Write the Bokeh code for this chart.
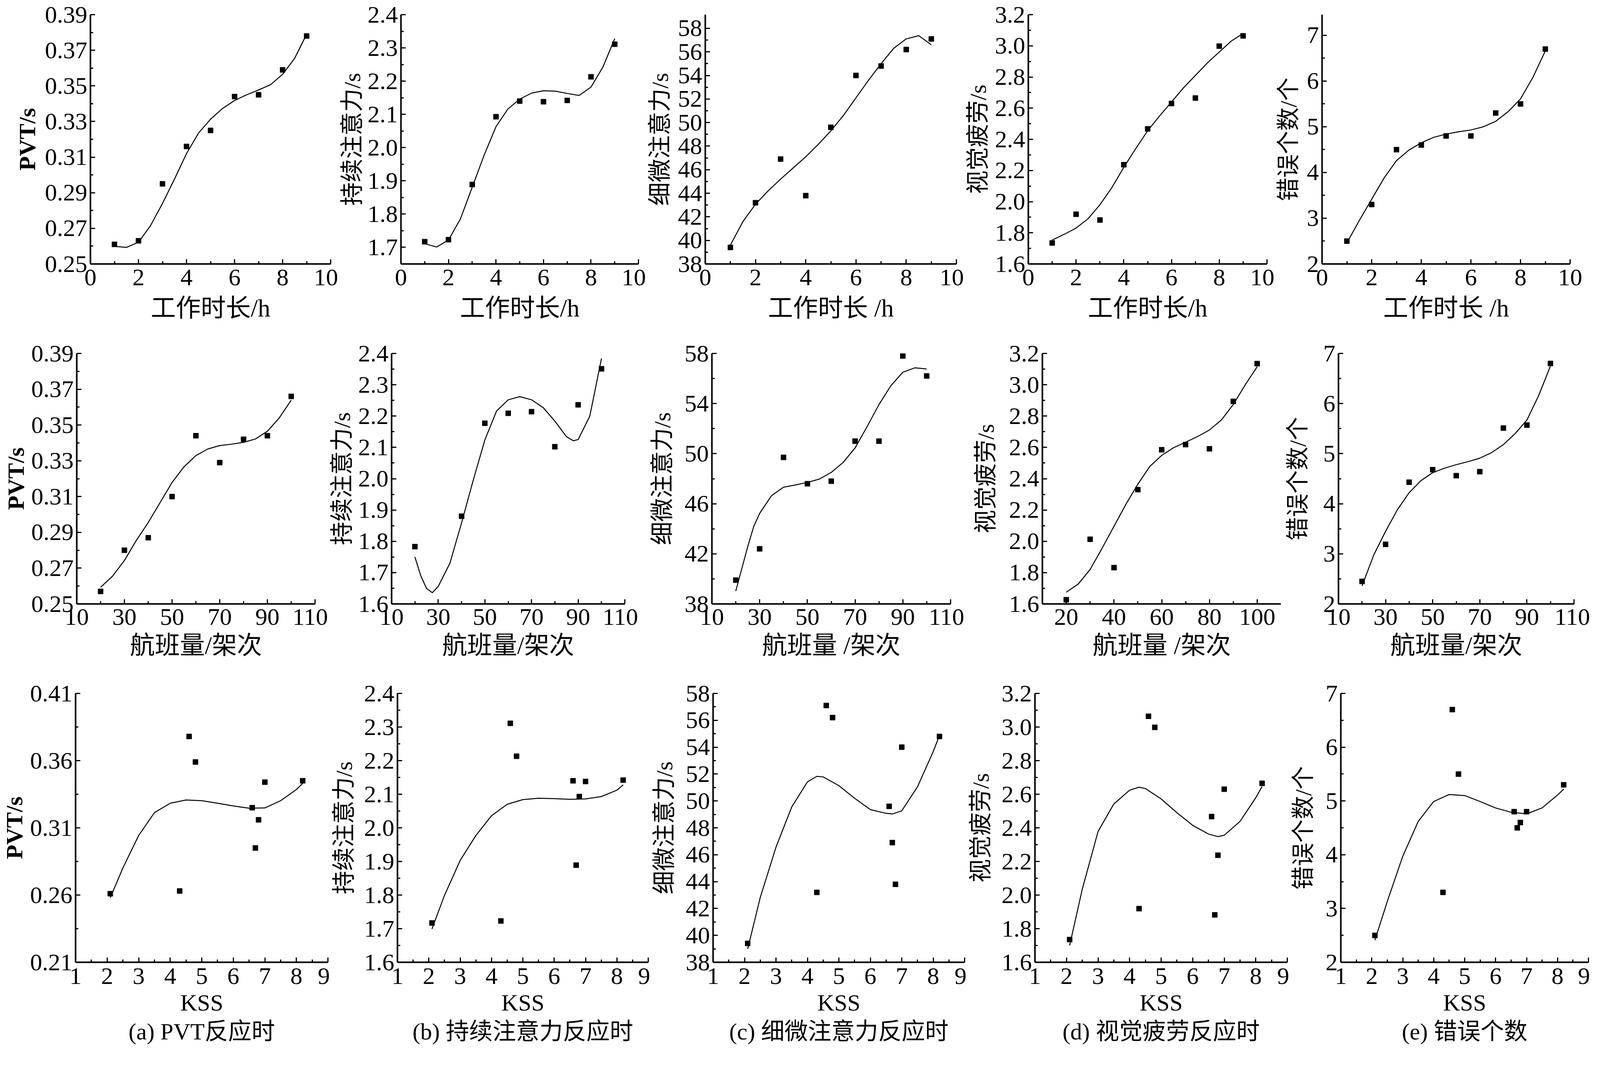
from bokeh.plotting import figure
from bokeh.layouts import row, column
from bokeh.models import Range1d, FixedTicker, PrintfTickFormatter, Title
from bokeh.embed import file_html
from bokeh.resources import INLINE

# ---------------- data ----------------
hours = [1, 2, 3, 4, 5, 6, 7, 8, 9]
flights = [20, 30, 40, 50, 60, 70, 80, 90, 100]
flights_sus = [20, 40, 50, 60, 70, 80, 90, 100]
kss = [2.1, 4.3, 6.7, 6.8, 6.6, 7.0, 8.2, 4.8, 4.6]

pvt_h = [0.261, 0.263, 0.295, 0.316, 0.325, 0.344, 0.345, 0.359, 0.378]
sus_h = [1.717, 1.723, 1.889, 2.093, 2.140, 2.138, 2.142, 2.213, 2.311]
fine_h = [39.4, 43.2, 46.9, 43.8, 49.6, 54.0, 54.8, 56.2, 57.1]
vis_h = [1.735, 1.919, 1.882, 2.237, 2.467, 2.630, 2.665, 2.998, 3.064]
err_h = [2.5, 3.3, 4.5, 4.6, 4.8, 4.8, 5.3, 5.5, 6.7]

pvt_f = [0.257, 0.280, 0.287, 0.310, 0.344, 0.329, 0.342, 0.344, 0.366]
sus_f = [1.783, 1.880, 2.177, 2.209, 2.214, 2.102, 2.236, 2.351]
fine_f = [39.9, 42.4, 49.7, 47.6, 47.8, 51.0, 51.0, 57.8, 56.2]
vis_f = [1.627, 2.013, 1.832, 2.330, 2.585, 2.618, 2.591, 2.894, 3.135]
err_f = [2.45, 3.19, 4.43, 4.68, 4.56, 4.64, 5.51, 5.57, 6.80]

# fitted curves
fit_h_x = [1, 1.5, 2, 2.5, 3, 3.5, 4, 4.5, 5, 5.5, 6, 6.5, 7, 7.5, 8, 8.5, 9]
pvt_h_fit = [0.2599, 0.2593, 0.2622, 0.2715, 0.2840, 0.2977, 0.3120, 0.3235, 0.3313,
             0.3373, 0.3418, 0.3450, 0.3477, 0.3507, 0.3565, 0.3655, 0.3790]
sus_h_fit = [1.711, 1.701, 1.722, 1.785, 1.881, 1.977, 2.063, 2.116, 2.146,
             2.164, 2.171, 2.170, 2.163, 2.157, 2.182, 2.242, 2.328]
fine_h_fit = [39.6, 41.6, 43.07, 44.2, 45.2, 46.15, 47.1, 48.15, 49.3,
              50.6, 52.1, 53.6, 55.0, 56.3, 57.1, 57.38, 56.6]
vis_h_fit = [1.753, 1.79, 1.83, 1.89, 1.98, 2.09, 2.22, 2.34, 2.455,
             2.55, 2.64, 2.73, 2.81, 2.89, 2.96, 3.03, 3.08]
err_h_fit = [2.46, 2.95, 3.415, 3.88, 4.26, 4.49, 4.65, 4.77, 4.84,
             4.89, 4.93, 5.0, 5.12, 5.33, 5.61, 6.08, 6.66]

fit_f_x = [20, 25, 30, 35, 40, 45, 50, 55, 60, 65, 70, 75, 80, 85, 90, 95, 100]
pvt_f_fit = [0.2593, 0.2655, 0.2743, 0.2855, 0.2955, 0.3067, 0.3179, 0.3266, 0.3329,
             0.3366, 0.3385, 0.3393, 0.3403, 0.3422, 0.3465, 0.3540, 0.3639]
sus_f_fit_x = [20, 22.5, 25, 27.5, 30, 35, 40, 45, 50, 55, 60, 65, 70, 75, 80, 85, 88, 90, 95, 100]
sus_f_fit = [1.750, 1.690, 1.649, 1.636, 1.656, 1.730, 1.859, 1.995, 2.124, 2.216,
             2.252, 2.262, 2.252, 2.227, 2.184, 2.134, 2.121, 2.125, 2.200, 2.384]
fine_f_fit_x = [20, 22.5, 25, 27.5, 30, 35, 40, 45, 50, 55, 60, 65, 70, 75, 80, 85, 90, 95, 100]
fine_f_fit = [39.03, 40.8, 42.57, 44.17, 45.23, 46.65, 47.32, 47.5, 47.7, 47.97,
              48.5, 49.3, 50.46, 52.15, 53.92, 55.43, 56.5, 56.85, 56.76]
vis_f_fit = [1.675, 1.727, 1.820, 1.955, 2.096, 2.237, 2.365, 2.478, 2.549,
             2.598, 2.633, 2.669, 2.711, 2.775, 2.874, 3.000, 3.115]
err_f_fit = [2.36, 2.98, 3.45, 3.88, 4.22, 4.46, 4.62, 4.71, 4.78,
             4.84, 4.91, 5.02, 5.18, 5.40, 5.67, 6.16, 6.75]

fit_k_x = [2.1, 2.5, 3, 3.5, 4, 4.5, 5, 5.5, 6, 6.5, 7, 7.5, 8, 8.2]
pvt_k_fit = [0.2580, 0.2802, 0.3043, 0.3213, 0.3283, 0.3307, 0.3302, 0.3283, 0.3263,
             0.3246, 0.3248, 0.3302, 0.3385, 0.3431]
sus_k_fit = [1.699, 1.799, 1.903, 1.977, 2.036, 2.070, 2.084, 2.088, 2.087,
             2.085, 2.086, 2.093, 2.112, 2.128]
fine_k_fit_x = [2.1, 2.5, 3, 3.5, 4, 4.3, 4.5, 5, 5.5, 6, 6.5, 6.7, 7, 7.5, 8, 8.2]
fine_k_fit = [38.99, 42.82, 46.56, 49.55, 51.42, 51.83, 51.79, 51.14, 50.2, 49.36,
              49.08, 49.03, 49.27, 51.05, 53.67, 54.88]
vis_k_fit_x = [2.1, 2.5, 3, 3.5, 4, 4.3, 4.5, 5, 5.5, 6, 6.5, 6.8, 7, 7.5, 8, 8.2]
vis_k_fit = [1.700, 2.035, 2.378, 2.542, 2.624, 2.642, 2.634, 2.572, 2.490, 2.415,
             2.363, 2.348, 2.356, 2.438, 2.579, 2.646]
err_k_fit = [2.41, 3.13, 3.97, 4.62, 4.99, 5.12, 5.10, 4.99, 4.87, 4.79, 4.76, 4.87, 5.11, 5.22]

# tick values
x_ticks_h = [0, 2, 4, 6, 8, 10]
x_minor_h = [1, 3, 5, 7, 9]
x_ticks_f = [10, 30, 50, 70, 90, 110]
x_minor_f = [20, 40, 60, 80, 100]
x_ticks_f2 = [20, 40, 60, 80, 100]
x_minor_f2 = [30, 50, 70, 90]
x_ticks_k = [1, 2, 3, 4, 5, 6, 7, 8, 9]
x_minor_k = [1.5, 2.5, 3.5, 4.5, 5.5, 6.5, 7.5, 8.5]

pvt_ticks = [0.25, 0.27, 0.29, 0.31, 0.33, 0.35, 0.37, 0.39]
pvt_minor = [0.26, 0.28, 0.30, 0.32, 0.34, 0.36, 0.38]
pvt_ticks_k = [0.21, 0.26, 0.31, 0.36, 0.41]
pvt_minor_k = [0.235, 0.285, 0.335, 0.385]
sus_ticks = [1.6, 1.7, 1.8, 1.9, 2.0, 2.1, 2.2, 2.3, 2.4]
sus_minor = [1.65, 1.75, 1.85, 1.95, 2.05, 2.15, 2.25, 2.35]
fine_ticks = [38, 40, 42, 44, 46, 48, 50, 52, 54, 56, 58]
fine_minor = [39, 41, 43, 45, 47, 49, 51, 53, 55, 57]
fine_ticks_f = [38, 42, 46, 50, 54, 58]
fine_minor_f = [40, 44, 48, 52, 56]
vis_ticks = [1.6, 1.8, 2.0, 2.2, 2.4, 2.6, 2.8, 3.0, 3.2]
vis_minor = [1.7, 1.9, 2.1, 2.3, 2.5, 2.7, 2.9, 3.1]
err_ticks = [2, 3, 4, 5, 6, 7]
err_minor = [2.5, 3.5, 4.5, 5.5, 6.5]

ylabels = ["PVT/s", "持续注意力/s", "细微注意力/s", "视觉疲劳/s", "错误个数/个"]
captions = ["(a) PVT反应时", "(b) 持续注意力反应时", "(c) 细微注意力反应时",
            "(d) 视觉疲劳反应时", "(e) 错误个数"]

# ---------------- styling / layout ----------------
NUM_FONT = "Liberation Serif"
TXT_FONT = "Liberation Serif, Noto Sans CJK SC"
TICK_SIZE = "62px"
YLABEL_SIZE = "60px"
EXTRA = 12   # the page adds about this much round every figure


def spans(frames, bounds):
    out = []
    for (fl, fr), x0, x1 in zip(frames, bounds[:-1], bounds[1:]):
        out.append((x1 - x0 - EXTRA, fl - x0, x1 - fr - EXTRA))
    return out


def panel(geom, height, top, bottom, xr, yr, xt, xm, yt, ym, yfmt,
          xlab, ylab, ystand, xtick_stand, xstand, xs, ys, fx, fy,
          caption=None, xlabel_size="64px"):
    w, L, R = geom
    p = figure(width=w, height=height - EXTRA, x_range=Range1d(*xr), y_range=Range1d(*yr),
               output_backend="svg", toolbar_location=None, title=None,
               min_border_left=L, min_border_right=R,
               min_border_top=top, min_border_bottom=bottom - EXTRA, margin=0)
    p.grid.visible = False
    p.outline_line_color = None
    p.background_fill_color = "white"
    p.border_fill_color = "white"
    p.xaxis.ticker = FixedTicker(ticks=xt, minor_ticks=xm)
    p.yaxis.ticker = FixedTicker(ticks=yt, minor_ticks=ym)
    p.xaxis.formatter = PrintfTickFormatter(format="%d")
    p.yaxis.formatter = PrintfTickFormatter(format=yfmt)
    for ax in (p.xaxis[0], p.yaxis[0]):
        ax.axis_line_width = 4
        ax.axis_line_color = "black"
        ax.major_tick_in = 12
        ax.major_tick_out = 0
        ax.minor_tick_in = 7
        ax.minor_tick_out = 0
        ax.major_tick_line_width = 3
        ax.minor_tick_line_width = 3
        ax.major_tick_line_color = "black"
        ax.minor_tick_line_color = "black"
        ax.major_label_text_font = NUM_FONT
        ax.major_label_text_font_size = TICK_SIZE
        ax.major_label_text_color = "black"
        ax.axis_label_text_font = TXT_FONT
        ax.axis_label_text_color = "black"
        ax.axis_label_text_font_style = "normal"
    p.xaxis.major_label_standoff = xtick_stand
    p.yaxis.major_label_standoff = 8
    p.xaxis.axis_label = xlab
    p.xaxis.axis_label_text_font_size = xlabel_size
    p.xaxis.axis_label_standoff = xstand
    p.yaxis.axis_label = ylab
    p.yaxis.axis_label_text_font_size = YLABEL_SIZE
    p.yaxis.axis_label_standoff = ystand
    if ylab.startswith("PVT"):
        p.yaxis.axis_label_text_font_style = "bold"
    p.line(fx, fy, line_color="black", line_width=2.5)
    p.scatter(xs, ys, marker="square", size=13, color="black")
    if caption:
        t = Title(text=caption, align="center", text_font=TXT_FONT,
                  text_font_size="60px", text_font_style="normal",
                  text_color="black", standoff=6)
        p.add_layout(t, "below")
    return p


# Row 1: working hours
g1 = spans([(239, 854), (1040, 1654), (1831, 2480), (2670, 3287), (3434, 4075)],
           [8, 885, 1685, 2511, 3318, 4138])
H1, B1 = 860, 185
xl_h = ["工作时长/h", "工作时长/h", "工作时长 /h", "工作时长/h", "工作时长 /h"]
r1 = [
    panel(g1[0], H1, 37, B1, (0, 10), (0.25, 0.39), x_ticks_h, x_minor_h, pvt_ticks, pvt_minor, "%.2f",
          xl_h[0], ylabels[0], 9, 14, 20, hours, pvt_h, fit_h_x, pvt_h_fit),
    panel(g1[1], H1, 37, B1, (0, 10), (1.65, 2.4), x_ticks_h, x_minor_h, sus_ticks, sus_minor, "%.1f",
          xl_h[1], ylabels[1], 3, 14, 20, hours, sus_h, fit_h_x, sus_h_fit),
    panel(g1[2], H1, 0, B1, (0, 10), (38, 59.16), x_ticks_h, x_minor_h, fine_ticks, fine_minor, "%d",
          xl_h[2], ylabels[2], 10, 14, 20, hours, fine_h, fit_h_x, fine_h_fit),
    panel(g1[3], H1, 37, B1, (0, 10), (1.6, 3.2), x_ticks_h, x_minor_h, vis_ticks, vis_minor, "%.1f",
          xl_h[3], ylabels[3], 7, 14, 20, hours, vis_h, fit_h_x, vis_h_fit),
    panel(g1[4], H1, 0, B1, (0, 10), (2, 7.452), x_ticks_h, x_minor_h, err_ticks, err_minor, "%d",
          xl_h[4], ylabels[4], 11, 14, 20, hours, err_h, fit_h_x, err_h_fit),
]

# Row 2: flights
g2 = spans([(204, 814), (1016, 1619), (1854, 2465), (2712, 3323), (3482, 4085)],
           [8, 859, 1665, 2512, 3335, 4138])
H2, B2 = 884, 187
xl_f = ["航班量/架次", "航班量/架次", "航班量 /架次", "航班量 /架次", "航班量/架次"]
r2 = [
    panel(g2[0], H2, 51, B2, (10, 110), (0.25, 0.39), x_ticks_f, x_minor_f, pvt_ticks, pvt_minor, "%.2f",
          xl_f[0], ylabels[0], 3, 13, 14, flights, pvt_f, fit_f_x, pvt_f_fit),
    panel(g2[1], H2, 51, B2, (10, 110), (1.6, 2.4), x_ticks_f, x_minor_f, sus_ticks, sus_minor, "%.1f",
          xl_f[1], ylabels[1], 5, 13, 14, flights_sus, sus_f, sus_f_fit_x, sus_f_fit),
    panel(g2[2], H2, 51, B2, (10, 110), (38, 58), x_ticks_f, x_minor_f, fine_ticks_f, fine_minor_f, "%d",
          xl_f[2], ylabels[2], 21, 13, 14, flights, fine_f, fine_f_fit_x, fine_f_fit),
    panel(g2[3], H2, 45, B2, (10, 110), (1.6, 3.2), x_ticks_f2, x_minor_f2, vis_ticks, vis_minor, "%.1f",
          xl_f[3], ylabels[3], 23, 13, 14, flights, vis_f, fit_f_x, vis_f_fit),
    panel(g2[4], H2, 56, B2, (10, 110), (2, 7), x_ticks_f, x_minor_f, err_ticks, err_minor, "%d",
          xl_f[4], ylabels[4], 29, 13, 14, flights, err_f, fit_f_x, err_f_fit),
]

# Row 3: KSS
g3 = spans([(190, 847), (1031, 1679), (1851, 2501), (2687, 3339), (3482, 4122)],
           [8, 864, 1696, 2518, 3356, 4138])
H3, T3, B3 = 989, 54, 247
r3 = [
    panel(g3[0], H3, T3, B3, (1, 9), (0.21, 0.41), x_ticks_k, x_minor_k, pvt_ticks_k, pvt_minor_k, "%.2f",
          "KSS", ylabels[0], 4, 15, 12, kss, pvt_h, fit_k_x, pvt_k_fit, captions[0], "60px"),
    panel(g3[1], H3, T3, B3, (1, 9), (1.6, 2.4), x_ticks_k, x_minor_k, sus_ticks, sus_minor, "%.1f",
          "KSS", ylabels[1], 15, 15, 12, kss, sus_h, fit_k_x, sus_k_fit, captions[1], "60px"),
    panel(g3[2], H3, T3, B3, (1, 9), (38, 58), x_ticks_k, x_minor_k, fine_ticks, fine_minor, "%d",
          "KSS", ylabels[2], 19, 15, 12, kss, fine_h, fine_k_fit_x, fine_k_fit, captions[2], "60px"),
    panel(g3[3], H3, T3, B3, (1, 9), (1.6, 3.2), x_ticks_k, x_minor_k, vis_ticks, vis_minor, "%.1f",
          "KSS", ylabels[3], 17, 15, 12, kss, vis_h, vis_k_fit_x, vis_k_fit, captions[3], "60px"),
    panel(g3[4], H3, T3, B3, (1, 9), (2, 7), x_ticks_k, x_minor_k, err_ticks, err_minor, "%d",
          "KSS", ylabels[4], 21, 15, 12, kss, err_h, fit_k_x, err_k_fit, captions[4], "60px"),
]

layout = column(row(*r1, spacing=0, margin=0), row(*r2, spacing=0, margin=0),
                row(*r3, spacing=0, margin=0), spacing=0, margin=0)

open("out.html", "w").write(file_html(layout, INLINE))
